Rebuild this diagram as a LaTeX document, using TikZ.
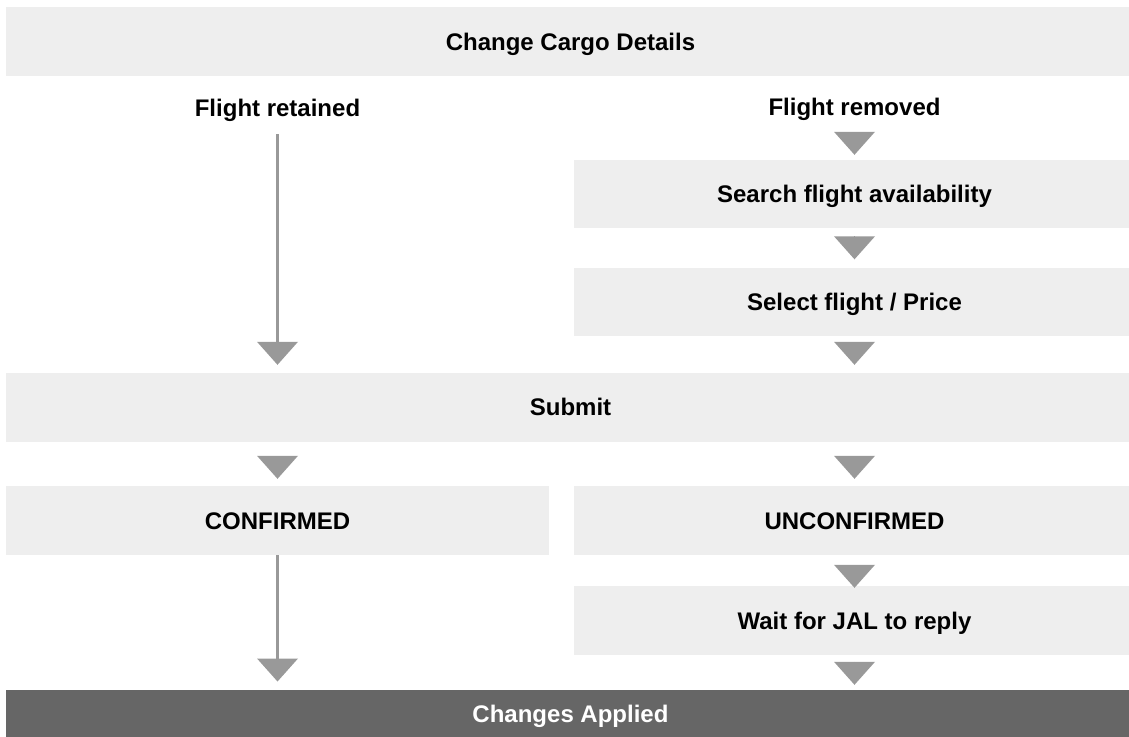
\documentclass[tikz,border=0pt]{standalone}
\usepackage{fontspec}
\setmainfont{Liberation Sans}
\usetikzlibrary{arrows.meta}
\definecolor{boxgray}{HTML}{EEEEEE}
\definecolor{arrgray}{HTML}{999999}
\definecolor{darkgray}{HTML}{666666}
\begin{document}
\begin{tikzpicture}[x=1pt,y=-1pt,
  lbl/.style={inner sep=0pt, text height=17.2pt, text depth=0pt, font=\fontsize{24}{28}\selectfont\bfseries},
  box/.style={lbl, fill=boxgray, minimum height=69pt},
  fullbox/.style={box, minimum width=1129pt},
  rbox/.style={box, minimum width=561pt},
  lbox/.style={box, minimum width=543pt},
  conn/.style={draw=arrgray, line width=3pt, -{Triangle[length=23pt,width=41pt,line width=0pt]}},
  headonly/.style={draw=arrgray, line width=0.2pt, -{Triangle[length=23pt,width=41pt,line width=0pt]}}
]
\clip (0,0) rectangle (1129,736);
\fill[white] (0,0) rectangle (1129,736);

\node[fullbox] (top) at (570.5,41.5) {Change Cargo Details};
\node[lbl, anchor=base] (retained) at (277.5,116) {Flight retained};
\node[lbl, anchor=base] (removed) at (854.5,115) {Flight removed};
\node[rbox, minimum height=68pt] (search) at (854.5,194) {Search flight availability};
\node[rbox, minimum height=68pt] (select) at (854.5,301.5) {Select flight / Price};
\node[fullbox] (submit) at (570.5,407.2) {Submit};
\node[lbox] (conf) at (277.5,520.5) {CONFIRMED};
\node[rbox] (unconf) at (854.5,520.5) {UNCONFIRMED};
\node[rbox] (wait) at (854.5,620.5) {Wait for JAL to reply};
\node[fullbox, minimum height=48pt, fill=darkgray, text=white] (applied) at (570.5,714) {Changes Applied};

\draw[conn, shorten <=18pt, shorten >=7.7pt] (retained.south -| conf.north) -- (submit.north -| conf.north);
\draw[headonly, shorten <=17pt, shorten >=5pt] (removed.south) -- (search.north);
\draw[headonly, shorten <=8pt, shorten >=8pt] (search.south) -- (select.north);
\draw[headonly, shorten <=7pt, shorten >=7.7pt] (select.south) -- (submit.north -| select.south);
\draw[headonly, shorten <=14.3pt, shorten >=7pt] (submit.south -| conf.north) -- (conf.north);
\draw[headonly, shorten <=14.3pt, shorten >=7pt] (submit.south -| unconf.north) -- (unconf.north);
\draw[headonly, shorten <=10.7pt, shorten >=-2pt] (unconf.south) -- (wait.north);
\draw[headonly, shorten <=6.7pt, shorten >=5pt] (wait.south) -- (applied.north -| wait.south);
\draw[conn, shorten <=0pt, shorten >=8.3pt] (conf.south) -- (applied.north -| conf.south);
\end{tikzpicture}
\end{document}
